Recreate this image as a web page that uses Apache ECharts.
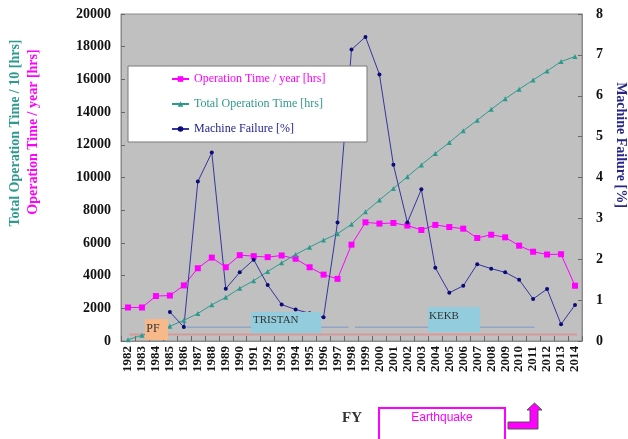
<!DOCTYPE html>
<html>
<head>
<meta charset="utf-8">
<script src="https://cdn.jsdelivr.net/npm/echarts@6/dist/echarts.min.js"></script>
<style>
html,body{margin:0;padding:0;background:#fff;}
#chart{width:628px;height:439px;}
</style>
</head>
<body>
<div id="chart"></div>
<script>
// ---- data ----
var years = ['1982','1983','1984','1985','1986','1987','1988','1989','1990','1991','1992','1993','1994','1995','1996','1997','1998','1999','2000','2001','2002','2003','2004','2005','2006','2007','2008','2009','2010','2011','2012','2013','2014'];
var opTimePerYear = [2050,2050,2750,2780,3400,4450,5100,4510,5250,5190,5130,5230,5030,4510,4060,3800,5890,7260,7180,7220,7060,6790,7100,6970,6870,6300,6500,6340,5830,5460,5290,5310,3380];
var totalOpTimeDiv10 = [80,350,600,900,1270,1680,2215,2670,3220,3690,4250,4780,5290,5740,6170,6560,7140,7900,8620,9330,10050,10770,11470,12140,12860,13500,14170,14810,15400,15960,16510,17090,17400];
var machineFailure = [null,null,null,0.71,0.34,3.90,4.61,1.28,1.68,1.99,1.37,0.89,0.77,0.68,0.58,2.90,7.13,7.44,6.52,4.31,2.90,3.71,1.79,1.18,1.35,1.88,1.77,1.68,1.50,1.03,1.27,0.41,0.88];
var leftTicks = [0,2000,4000,6000,8000,10000,12000,14000,16000,18000,20000];
var rightTicks = [0,1,2,3,4,5,6,7,8];
var tristanPeriod = [1986.2, 1997.8];
var kekbPeriod = [1998.25, 2011.1];
var fullPeriod = [1982.1, 2014.15];
var periodLevel = 840;
var basePeriodLevel = 390;

var names = ['Operation Time / year [hrs]','Total Operation Time [hrs]','Machine Failure [%]'];
var cMag = '#FF00FF', cTeal = '#2E9A8E', cNavy = '#1E1E8A';
var serif = '"Liberation Serif","DejaVu Serif",serif';

var chart = echarts.init(document.getElementById('chart'));
var option = {
  animation:false,
  backgroundColor:'#ffffff',
  grid:{left:121,right:46,top:14,bottom:98,show:true,backgroundColor:'#C0C0C0',borderColor:'#8a8a8a',borderWidth:1},
  xAxis:[{
    type:'category', data:years, boundaryGap:true,
    axisLine:{show:true,lineStyle:{color:'#8a8a8a'}},
    axisTick:{show:true,inside:true,length:5,lineStyle:{color:'#666'}},
    axisLabel:{rotate:90,interval:0,fontFamily:serif,fontWeight:'bold',fontSize:13,color:'#111',margin:5},
    splitLine:{show:false}
  },{
    type:'value', min:1981.5, max:2014.5, show:false
  }],
  yAxis:[{
    type:'value', min:leftTicks[0], max:leftTicks[leftTicks.length-1], interval:2000,
    axisLine:{show:true,lineStyle:{color:'#8a8a8a'}},
    axisTick:{show:true,inside:true,length:4,lineStyle:{color:'#666'}},
    axisLabel:{fontFamily:serif,fontWeight:'bold',fontSize:14,color:'#111',margin:10,formatter:function(v){return String(v);}},
    splitLine:{show:false}
  },{
    type:'value', min:rightTicks[0], max:rightTicks[rightTicks.length-1], interval:1, position:'right',
    axisLine:{show:true,lineStyle:{color:'#8a8a8a'}},
    axisTick:{show:true,inside:true,length:4,lineStyle:{color:'#666'}},
    axisLabel:{fontFamily:serif,fontWeight:'bold',fontSize:14,color:'#111',margin:14},
    splitLine:{show:false}
  }],
  legend:{
    orient:'vertical', left:171, top:72, itemWidth:17, itemHeight:7, itemGap:11, z:101, padding:0,
    textStyle:{fontFamily:serif,fontSize:12,lineHeight:14},
    data:[
      {name:names[0],textStyle:{color:cMag}},
      {name:names[1],textStyle:{color:cTeal}},
      {name:names[2],textStyle:{color:cNavy}}
    ]
  },
  series:[
    {type:'line',xAxisIndex:1,yAxisIndex:0,data:[[fullPeriod[0],basePeriodLevel],[fullPeriod[1],basePeriodLevel]],symbol:'none',lineStyle:{color:'#D59A9A',width:2},silent:true,z:1},
    {type:'line',xAxisIndex:1,yAxisIndex:0,data:[[tristanPeriod[0],periodLevel],[tristanPeriod[1],periodLevel]],symbol:'none',lineStyle:{color:'#8FA6C9',width:1.5},silent:true,z:1},
    {type:'line',xAxisIndex:1,yAxisIndex:0,data:[[kekbPeriod[0],periodLevel],[kekbPeriod[1],periodLevel]],symbol:'none',lineStyle:{color:'#8FA6C9',width:1.5},silent:true,z:1},
    {name:names[0],type:'line',xAxisIndex:0,yAxisIndex:0,data:opTimePerYear,symbol:'rect',symbolSize:6,itemStyle:{color:cMag},lineStyle:{color:cMag,width:1},z:3},
    {name:names[1],type:'line',xAxisIndex:0,yAxisIndex:0,data:totalOpTimeDiv10,symbol:'triangle',symbolSize:5,itemStyle:{color:cTeal},lineStyle:{color:cTeal,width:1},z:3},
    {name:names[2],type:'line',xAxisIndex:0,yAxisIndex:1,data:machineFailure,symbol:'circle',symbolSize:4,itemStyle:{color:'#0A0A78'},lineStyle:{color:'#3535A0',width:1},z:3}
  ],
  graphic:[
    {type:'rect',z:100,shape:{x:128,y:66,width:239,height:76},style:{fill:'#ffffff',stroke:'#7a7a7a',lineWidth:1}},
    {type:'rect',z:100,shape:{x:145,y:319,width:23,height:21},style:{fill:'#F8B98A'}},
    {type:'text',z:101,x:153,y:329,style:{text:'PF',font:'12px '+serif,fill:'#333',textAlign:'center',textVerticalAlign:'middle'}},
    {type:'rect',z:100,shape:{x:251,y:312,width:70,height:21},style:{fill:'#93CDDD'}},
    {type:'text',z:101,x:253,y:320,style:{text:'TRISTAN',font:'11px '+serif,fill:'#333',textAlign:'left',textVerticalAlign:'middle'}},
    {type:'rect',z:100,shape:{x:428,y:307,width:52,height:25},style:{fill:'#93CDDD'}},
    {type:'text',z:101,x:429,y:316,style:{text:'KEKB',font:'11px '+serif,fill:'#333',textAlign:'left',textVerticalAlign:'middle'}},
    {type:'text',z:101,x:15,y:133,rotation:Math.PI/2,style:{text:'Total Operation Time / 10 [hrs]',font:'bold 14px '+serif,fill:cTeal,textAlign:'center',textVerticalAlign:'middle'}},
    {type:'text',z:101,x:33,y:132,rotation:Math.PI/2,style:{text:'Operation Time / year [hrs]',font:'bold 14px '+serif,fill:cMag,textAlign:'center',textVerticalAlign:'middle'}},
    {type:'text',z:101,x:621,y:145,rotation:-Math.PI/2,style:{text:'Machine Failure [%]',font:'bold 14px '+serif,fill:'#26268C',textAlign:'center',textVerticalAlign:'middle'}},
    {type:'text',z:101,x:352,y:418,style:{text:'FY',font:'bold 15px '+serif,fill:'#333',textAlign:'center',textVerticalAlign:'middle'}},
    {type:'rect',z:100,shape:{x:379,y:408,width:126,height:40},style:{fill:'#ffffff',stroke:cMag,lineWidth:2}},
    {type:'text',z:101,x:442,y:418,style:{text:'Earthquake',font:'12px "Liberation Sans",Arial,sans-serif',fill:cMag,textAlign:'center',textVerticalAlign:'middle'}},
    {type:'polygon',z:100,shape:{points:[[508,422],[530,422],[530,410],[527,410],[534.5,403],[542,410],[538,410],[538,429],[508,429]]},style:{fill:cMag,stroke:'#555',lineWidth:1}}
  ]
};
chart.setOption(option);
</script>
</body>
</html>
